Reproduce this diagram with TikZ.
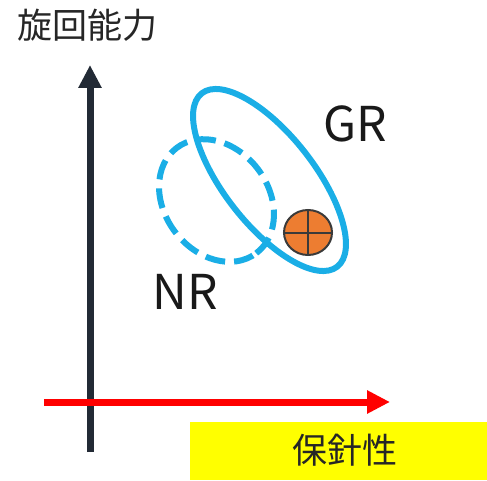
\documentclass[tikz,border=0pt]{standalone}
\usepackage{fontspec}
\setmainfont{Noto Sans CJK JP}
\usetikzlibrary{arrows.meta}
\definecolor{axisdark}{HTML}{222A35}
\definecolor{axisred}{HTML}{FF0000}
\definecolor{ringblue}{HTML}{1AAEE6}
\definecolor{ballorange}{HTML}{ED7D31}
\definecolor{ballline}{HTML}{3A3A3A}
\definecolor{labelyellow}{HTML}{FFFF00}
\tikzset{
  axisline/.style={line width=7pt, -{Triangle[width=22pt,length=23pt]}},
  cjklabel/.style={font=\fontsize{35}{40}\selectfont, inner sep=0pt, text=black!85},
  latinlabel/.style={font=\fontsize{48}{54}\selectfont, inner sep=0pt, text=black!90},
  ring/.style={draw=ringblue, line width=6pt},
}
\begin{document}
\begin{tikzpicture}[x=1pt,y=1pt]
\useasboundingbox (0,0) rectangle (487,480);
% yellow label box
\fill[labelyellow] (190,0) rectangle (487,58);
\node[cjklabel] (xlabel) at (345,30) {保針性};
\node[cjklabel] (ylabel) at (87,455) {旋回能力};
% axes
\coordinate (vbot) at (90,28);
\coordinate (vtop) at (90,415);
\coordinate (hleft) at (44,78);
\coordinate (hright) at (390,78);
\draw[axisline, draw=axisdark, fill=axisdark] (vbot) -- (vtop);
\draw[axisline, draw=axisred, fill=axisred] (hleft) -- (hright);
% ellipses
\draw[ring, dash pattern=on 20pt off 9pt] (216.5,279.5) ellipse[x radius=66, y radius=52, rotate=-53];
\draw[ring] (269.5,300) ellipse[x radius=110, y radius=45, rotate=-52];
% orange ball
\coordinate (ball) at (308,247.5);
\filldraw[fill=ballorange, draw=ballline, line width=2pt] (ball) ellipse[x radius=24, y radius=22.5];
\draw[ballline, line width=2pt] ([xshift=-24pt]ball) -- ([xshift=24pt]ball);
\draw[ballline, line width=2pt] ([yshift=-22.5pt]ball) -- ([yshift=22.5pt]ball);
% labels
\node[latinlabel] (gr) at (355.5,356.5) {GR};
\node[latinlabel] (nr) at (185.5,188.5) {NR};
\end{tikzpicture}
\end{document}
